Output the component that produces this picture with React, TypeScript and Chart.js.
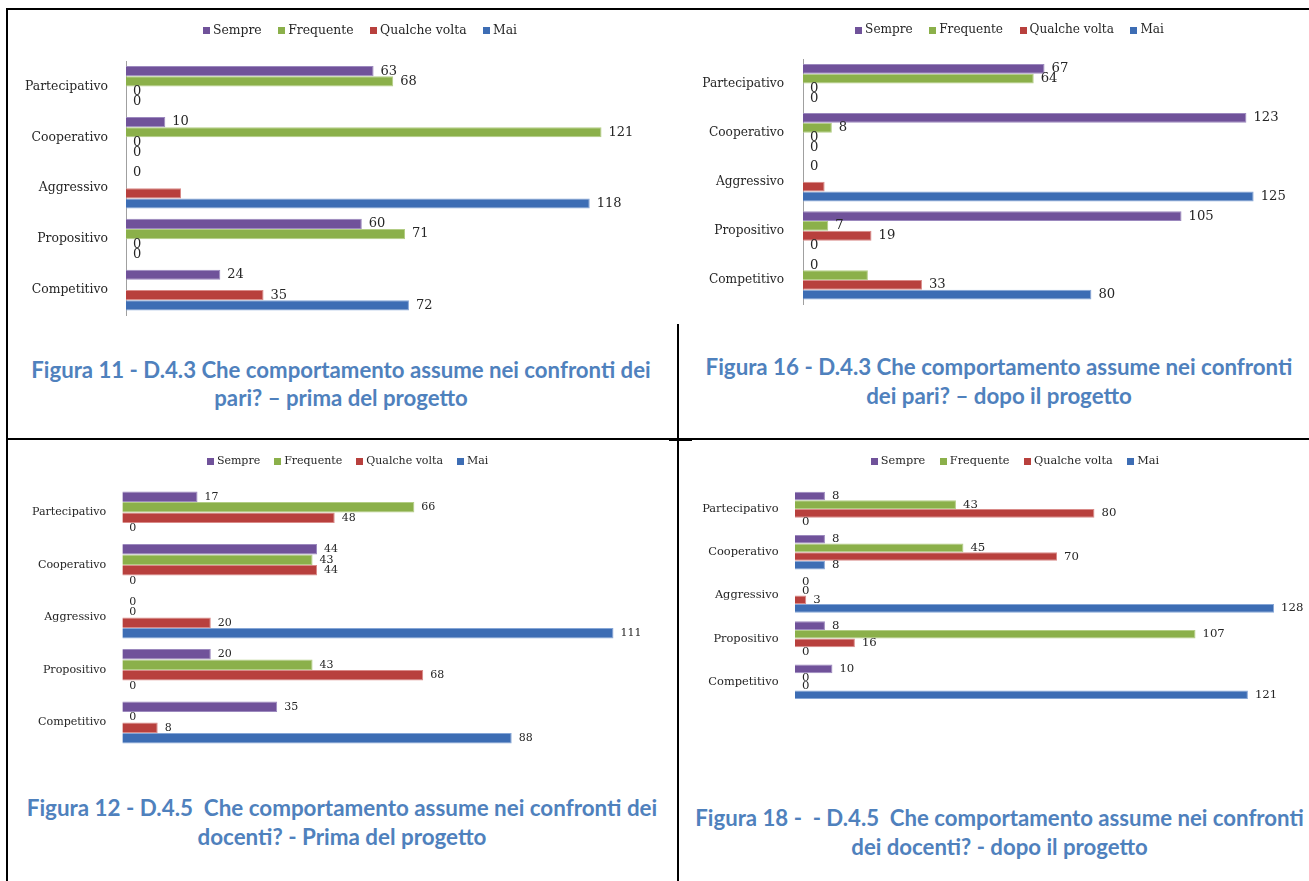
import React, { useEffect, useRef } from "react";
import { Chart, registerables } from "chart.js";

Chart.register(...registerables);

// ---- shared categories and series ----
const categories = ["Partecipativo", "Cooperativo", "Aggressivo", "Propositivo", "Competitivo"];
const seriesNames = ["Sempre", "Frequente", "Qualche volta", "Mai"];
const seriesColors = ["#70529A", "#8BB04A", "#B8403D", "#3D6DB4"];
const seriesEdges = ["#9C89BE", "#B3CD85", "#D98A88", "#86A6D6"];

// ---- Figura 11: comportamento verso i pari, prima del progetto ----
const pariPrimaSempre = [63, 10, 0, 60, 24];
const pariPrimaFrequente = [68, 121, null, 71, null];
const pariPrimaQualche = [0, 0, 14, 0, 35];
const pariPrimaMai = [0, 0, 118, 0, 72];
const pariPrimaSenzaEtichetta = ["Qualche volta|Aggressivo"];

// ---- Figura 16: comportamento verso i pari, dopo il progetto ----
const pariDopoSempre = [67, 123, 0, 105, 0];
const pariDopoFrequente = [64, 8, null, 7, 18];
const pariDopoQualche = [0, 0, 6, 19, 33];
const pariDopoMai = [0, 0, 125, 0, 80];
const pariDopoSenzaEtichetta = ["Qualche volta|Aggressivo", "Frequente|Competitivo"];

// ---- Figura 12: comportamento verso i docenti, prima del progetto ----
const docentiPrimaSempre = [17, 44, 0, 20, 35];
const docentiPrimaFrequente = [66, 43, 0, 43, 0];
const docentiPrimaQualche = [48, 44, 20, 68, 8];
const docentiPrimaMai = [0, 0, 111, 0, 88];

// ---- Figura 18: comportamento verso i docenti, dopo il progetto ----
const docentiDopoSempre = [8, 8, 0, 8, 10];
const docentiDopoFrequente = [43, 45, 0, 107, 0];
const docentiDopoQualche = [80, 70, 3, 16, 0];
const docentiDopoMai = [0, 8, 128, 0, 121];

// ---- captions ----
const captionFig11 = ["Figura 11 - D.4.3 Che comportamento assume nei confronti dei", "pari? \u2013 prima del progetto"];
const captionFig16 = ["Figura 16 - D.4.3 Che comportamento assume nei confronti", "dei pari? \u2013 dopo il progetto"];
const captionFig12 = ["Figura 12 - D.4.5  Che comportamento assume nei confronti dei", "docenti? - Prima del progetto"];
const captionFig18 = ["Figura 18 -  - D.4.5  Che comportamento assume nei confronti", "dei docenti? - dopo il progetto"];

const SERIF = "'DejaVu Serif', serif";
const CAPTION_FONT = "Lato, 'Open Sans', sans-serif";

type Layout = {
  left: number; top: number; width: number; height: number;
  axisX: number; plotTop: number; plotBottom: number; pxPerUnit: number;
  legendX: number; legendY: number; legendSize: number; legendGap: number;
  tickSize: number; tickPad: number; labelSize: number; axisLine: boolean;
};

type Panel = {
  id: string;
  series: (number | null)[][];
  hidden: string[];
  layout: Layout;
};

const panels: Panel[] = [
  {
    id: "fig11",
    series: [pariPrimaSempre, pariPrimaFrequente, pariPrimaQualche, pariPrimaMai],
    hidden: pariPrimaSenzaEtichetta,
    layout: {
      left: 8, top: 10, width: 670, height: 315,
      axisX: 126, plotTop: 61, plotBottom: 315.5, pxPerUnit: 3.93,
      legendX: 360, legendY: 30.5, legendSize: 12.4, legendGap: 16.5,
      tickSize: 12.4, tickPad: 18, labelSize: 13, axisLine: true,
    },
  },
  {
    id: "fig16",
    series: [pariDopoSempre, pariDopoFrequente, pariDopoQualche, pariDopoMai],
    hidden: pariDopoSenzaEtichetta,
    layout: {
      left: 680, top: 10, width: 629, height: 315,
      axisX: 803, plotTop: 59, plotBottom: 304.5, pxPerUnit: 3.605,
      legendX: 1009.5, legendY: 30, legendSize: 12.1, legendGap: 16.5,
      tickSize: 12.2, tickPad: 19, labelSize: 13.2, axisLine: true,
    },
  },
  {
    id: "fig12",
    series: [docentiPrimaSempre, docentiPrimaFrequente, docentiPrimaQualche, docentiPrimaMai],
    hidden: [],
    layout: {
      left: 8, top: 442, width: 670, height: 320,
      axisX: 122.3, plotTop: 486.2, plotBottom: 748.7, pxPerUnit: 4.425,
      legendX: 347.6, legendY: 461, legendSize: 11, legendGap: 14,
      tickSize: 11.1, tickPad: 16, labelSize: 11, axisLine: false,
    },
  },
  {
    id: "fig18",
    series: [docentiDopoSempre, docentiDopoFrequente, docentiDopoQualche, docentiDopoMai],
    hidden: [],
    layout: {
      left: 680, top: 442, width: 629, height: 300,
      axisX: 795, plotTop: 487.4, plotBottom: 703.4, pxPerUnit: 3.743,
      legendX: 1015, legendY: 461, legendSize: 11.3, legendGap: 14.5,
      tickSize: 11.4, tickPad: 16.5, labelSize: 11.7, axisLine: false,
    },
  },
];

type Caption = { lines: string[]; centerX: number; y1: number; y2: number; size: number };

const captions: Caption[] = [
  { lines: captionFig11, centerX: 341, y1: 370, y2: 398, size: 22.2 },
  { lines: captionFig16, centerX: 999, y1: 367, y2: 396, size: 22.3 },
  { lines: captionFig12, centerX: 342, y1: 808, y2: 837, size: 22.4 },
  { lines: captionFig18, centerX: 999.5, y1: 818, y2: 847, size: 22.2 },
];

// Value labels written just past the end of each bar.
const valueLabels = {
  id: "valueLabels",
  afterDatasetsDraw(chart: any, _args: any, opts: any) {
    const { ctx } = chart;
    ctx.save();
    ctx.font = `${opts.size}px ${SERIF}`;
    ctx.fillStyle = "#262626";
    ctx.textAlign = "left";
    ctx.textBaseline = "middle";
    chart.data.datasets.forEach((ds: any, di: number) => {
      const meta = chart.getDatasetMeta(di);
      meta.data.forEach((bar: any, i: number) => {
        const v = ds.data[i];
        if (v === null || v === undefined) return;
        if (opts.hidden.includes(`${ds.label}|${chart.data.labels[i]}`)) return;
        ctx.fillText(String(v), bar.x + 7, bar.y);
      });
    });
    ctx.restore();
  },
};

// Horizontal legend row with small square swatches.
const swatchLegend = {
  id: "swatchLegend",
  afterDraw(chart: any, _args: any, opts: any) {
    const { ctx } = chart;
    ctx.save();
    ctx.font = `${opts.size}px ${SERIF}`;
    ctx.textBaseline = "middle";
    ctx.textAlign = "left";
    const box = 7;
    const boxGap = 3;
    const items = chart.data.datasets.map((ds: any) => ({
      text: ds.label,
      color: ds.backgroundColor,
      w: ctx.measureText(ds.label).width,
    }));
    const total =
      items.reduce((s: number, it: any) => s + box + boxGap + it.w, 0) + opts.gap * (items.length - 1);
    let x = opts.x - total / 2;
    items.forEach((it: any) => {
      ctx.fillStyle = it.color;
      ctx.fillRect(Math.round(x), Math.round(opts.y - box / 2), box, box);
      x += box + boxGap;
      ctx.fillStyle = "#262626";
      ctx.fillText(it.text, x, opts.y);
      x += it.w + opts.gap;
    });
    ctx.restore();
  },
};

function BarPanel({ panel }: { panel: Panel }) {
  const ref = useRef<HTMLCanvasElement | null>(null);
  const L = panel.layout;

  useEffect(() => {
    if (!ref.current) return;
    const axisWidth = L.axisX - L.left;
    const xMax = (L.left + L.width - L.axisX) / L.pxPerUnit;
    const chart = new Chart(ref.current, {
      type: "bar",
      data: {
        labels: categories,
        datasets: panel.series.map((values, s) => ({
          label: seriesNames[s],
          data: values,
          backgroundColor: seriesColors[s],
          borderColor: seriesEdges[s],
          borderWidth: 1,
          barPercentage: 1,
          categoryPercentage: 0.8,
        })),
      },
      options: {
        indexAxis: "y",
        responsive: false,
        animation: false,
        devicePixelRatio: 1,
        layout: {
          padding: {
            left: 0,
            right: 0,
            top: L.plotTop - L.top,
            bottom: L.top + L.height - L.plotBottom,
          },
        },
        scales: {
          x: { display: false, min: 0, max: xMax },
          y: {
            type: "category",
            grid: { display: false, drawTicks: false },
            border: { display: L.axisLine, color: "#A0A0A0", width: 1 },
            ticks: {
              color: "#262626",
              padding: L.tickPad,
              font: { family: SERIF, size: L.tickSize },
            },
            afterFit: (scale: any) => {
              // fixed axis band; the plot edges come from the layout padding alone
              scale.width = axisWidth;
              scale.paddingTop = 0;
              scale.paddingBottom = 0;
            },
          },
        },
        plugins: {
          legend: { display: false },
          tooltip: { enabled: false },
          valueLabels: { size: L.labelSize, hidden: panel.hidden },
          swatchLegend: {
            x: L.legendX - L.left,
            y: L.legendY - L.top,
            size: L.legendSize,
            gap: L.legendGap,
          },
        } as any,
      },
      plugins: [valueLabels, swatchLegend],
    } as any);
    return () => chart.destroy();
  }, [panel]);

  return (
    <canvas
      ref={ref}
      width={L.width}
      height={L.height}
      style={{ position: "absolute", left: L.left, top: L.top, width: L.width, height: L.height }}
    />
  );
}

function Rule({ x, y, w, h }: { x: number; y: number; w: number; h: number }) {
  return <div style={{ position: "absolute", left: x, top: y, width: w, height: h, background: "#000" }} />;
}

export default function App() {
  return (
    <div
      style={{
        position: "absolute",
        left: 0,
        top: 0,
        width: 1309,
        height: 881,
        overflow: "hidden",
        background: "#fff",
      }}
    >
      {panels.map((p) => (
        <BarPanel key={p.id} panel={p} />
      ))}
      {captions.map((c, i) =>
        c.lines.map((line, j) => (
          <div
            key={`${i}-${j}`}
            style={{
              position: "absolute",
              left: c.centerX - 400,
              width: 800,
              top: (j === 0 ? c.y1 : c.y2) - c.size * 0.7,
              textAlign: "center",
              whiteSpace: "pre",
              fontFamily: CAPTION_FONT,
              fontWeight: 700,
              fontSize: c.size,
              lineHeight: `${Math.round(c.size * 1.4)}px`,
              color: "#4F81BD",
            }}
          >
            {line}
          </div>
        ))
      )}
      {/* table rules */}
      <Rule x={6} y={8} w={1303} h={2} />
      <Rule x={6} y={8} w={2} h={873} />
      <Rule x={677} y={324} w={2} h={557} />
      <Rule x={6} y={438} w={1303} h={2} />
      <Rule x={669} y={438} w={23} h={3} />
    </div>
  );
}
